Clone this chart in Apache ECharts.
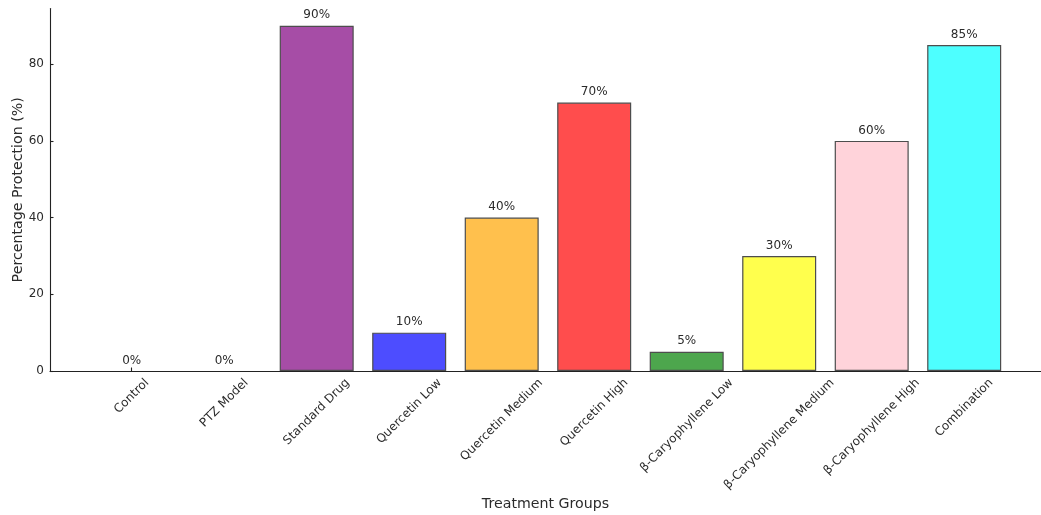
<!DOCTYPE html>
<html>
<head>
<meta charset="utf-8">
<style>
  html, body { margin: 0; padding: 0; background: #fff; }
  #chart { width: 1041px; height: 515px; }
</style>
<script src="https://cdn.jsdelivr.net/npm/echarts@6/dist/echarts.min.js"></script>
</head>
<body>
<div id="chart"></div>
<script>
// Treatment groups and their percentage protection
const categories = [
  'Control', 'PTZ Model', 'Standard Drug', 'Quercetin Low', 'Quercetin Medium',
  'Quercetin High', 'β-Caryophyllene Low', 'β-Caryophyllene Medium',
  'β-Caryophyllene High', 'Combination'
];
const protection = [0, 0, 90, 10, 40, 70, 5, 30, 60, 85];
const barColors = [
  '#a6a6a6', '#4d4d4d', '#a64da6', '#4d4dff', '#ffc04d',
  '#ff4d4d', '#4da64d', '#ffff4d', '#ffd3da', '#4dffff'
];
const yTicks = [0, 20, 40, 60, 80];
const yMax = 94.5;

const FONT = '"DejaVu Sans", Verdana, sans-serif';
const TICK_SIZE = 12;
const TEXT = '#2b2b2b';
const AXIS = '#222222';

// measure category label widths so rotated labels can be centred under their ticks
const measureCtx = document.createElement('canvas').getContext('2d');
measureCtx.font = TICK_SIZE + 'px ' + FONT;
function textWidth(s) { return measureCtx.measureText(s).width; }

const chart = echarts.init(document.getElementById('chart'), null, { renderer: 'canvas' });

const gridTop = 8.6, gridBottom = 144;

chart.setOption({
  animation: false,
  backgroundColor: '#ffffff',
  textStyle: { fontFamily: FONT },
  grid: [
    // frame grid: carries the spines and axis titles
    { left: 50, right: 0, top: gridTop, bottom: gridBottom, containLabel: false, outerBoundsMode: 'none' },
    // bar grid
    { left: 85.45, right: 30.55, top: gridTop, bottom: gridBottom, containLabel: false, outerBoundsMode: 'none' }
  ],
  xAxis: [
    {
      gridIndex: 0, type: 'value', min: 0, max: 1,
      axisLine: { show: true, lineStyle: { color: AXIS, width: 1.1 } },
      axisTick: { show: false }, axisLabel: { show: false }, splitLine: { show: false },
      name: 'Treatment Groups', nameLocation: 'middle', nameGap: 126.5, nameMoveOverlap: false,
      nameTextStyle: { fontFamily: FONT, fontSize: 14.2, color: TEXT }
    },
    {
      gridIndex: 1, type: 'category', data: categories,
      axisLine: { show: false },
      axisTick: { show: true, inside: true, alignWithLabel: true, length: 3.5,
                  lineStyle: { color: AXIS, width: 1.1 } },
      axisLabel: { show: false }, splitLine: { show: false }
    }
  ],
  yAxis: [
    {
      gridIndex: 0, type: 'value', min: 0, max: yMax,
      axisLine: { show: true, lineStyle: { color: AXIS, width: 1.1 } },
      axisTick: { show: true, inside: true, length: 3.5, customValues: yTicks,
                  lineStyle: { color: AXIS, width: 1.1 } },
      axisLabel: { show: true, customValues: yTicks, margin: 6,
                   fontFamily: FONT, fontSize: TICK_SIZE, color: TEXT },
      splitLine: { show: false },
      name: 'Percentage Protection (%)', nameLocation: 'middle', nameGap: 25, nameRotate: 90,
      nameMoveOverlap: false,
      nameTextStyle: { fontFamily: FONT, fontSize: 14.2, color: TEXT }
    },
    {
      gridIndex: 1, type: 'value', min: 0, max: yMax, show: false
    }
  ],
  series: [
    {
      type: 'bar', xAxisIndex: 1, yAxisIndex: 1,
      barWidth: '80%',
      data: protection.map((v, i) => ({
        value: v,
        itemStyle: { color: barColors[i], borderWidth: v === 0 ? 0 : 1.2 }
      })),
      itemStyle: { borderColor: '#4d4d4d', borderWidth: 1.2 },
      label: {
        show: true, position: 'top', distance: 4.5,
        formatter: p => p.value + '%',
        fontFamily: FONT, fontSize: TICK_SIZE, color: TEXT
      },
      silent: true, z: 2
    },
    {
      // rotated category labels, centred under each tick
      type: 'custom', xAxisIndex: 1, yAxisIndex: 1, clip: false, silent: true,
      data: categories.map((c, i) => [i, 0]),
      renderItem: (params, api) => {
        const i = api.value(0);
        const p = api.coord([i, 0]);
        const label = categories[i];
        const w = textWidth(label);
        const h = TICK_SIZE * 1.164;
        const cy = p[1] + 5 + (w + h) / (2 * Math.SQRT2);
        return {
          type: 'text',
          x: p[0], y: cy, rotation: Math.PI / 4,
          style: {
            text: label, x: 0, y: 0, align: 'center', verticalAlign: 'middle',
            font: TICK_SIZE + 'px ' + FONT, fill: TEXT
          }
        };
      },
      z: 3
    }
  ]
});
</script>
</body>
</html>
